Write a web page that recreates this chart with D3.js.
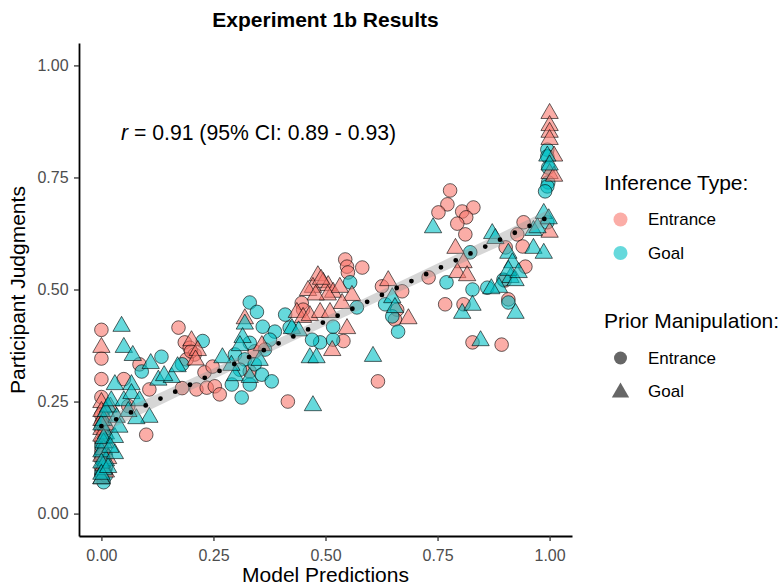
<!DOCTYPE html>
<html>
<head>
<meta charset="utf-8">
<script src="https://cdn.jsdelivr.net/npm/d3@7"></script>
<style>
  body { margin: 0; background: #fff; }
  text { font-family: "Liberation Sans", Arial, sans-serif; }
</style>
</head>
<body>
<div id="vis"></div>
<script>
const FRAME_WIDTH = 780;
const FRAME_HEIGHT = 585;
const PANEL = {left: 79, right: 572, top: 43, bottom: 536};

// [model prediction, participant judgment] per inference type x prior manipulation
const entranceCircle = [
  [0.0,0.41],[0.0,0.346],[0.0,0.30],[0.0,0.26],[0.005,0.23],[0.0,0.20],[0.01,0.17],[0.0,0.14],[0.005,0.12],[0.0,0.10],
  [0.0,0.22],[0.005,0.18],[0.0,0.16],[0.01,0.13],[0.0,0.085],[0.01,0.105],[0.0,0.19],
  [0.06,0.24],[0.05,0.30],[0.085,0.333],[0.107,0.277],[0.10,0.176],[0.172,0.415],
  [0.186,0.382],[0.197,0.37],[0.208,0.355],[0.19,0.344],[0.2,0.362],[0.18,0.28],[0.212,0.277],[0.23,0.315],
  [0.248,0.328],[0.235,0.281],[0.253,0.284],[0.264,0.266],
  [0.342,0.362],[0.331,0.317],[0.416,0.25],[0.544,0.567],[0.548,0.551],[0.55,0.538],[0.582,0.549],
  [0.447,0.47],[0.45,0.455],[0.617,0.295],[0.626,0.507],[0.671,0.496],[0.66,0.455],[0.655,0.433],
  [0.73,0.527],[0.767,0.467],[0.808,0.467],[0.828,0.382],[0.893,0.377],[0.778,0.721],[0.772,0.69],
  [0.752,0.672],[0.805,0.674],[0.83,0.683],[0.814,0.661],[0.794,0.647],[0.812,0.623],[0.902,0.594],
  [0.908,0.478],[0.946,0.551],[0.942,0.65],[0.928,0.623],[0.94,0.596],[0.54,0.385],[0.9,0.52]
];
const entranceTriangle = [
  [0.0,0.373],[0.0,0.25],[0.005,0.22],[0.0,0.19],[0.01,0.16],[0.0,0.13],[0.005,0.11],[0.0,0.08],[0.02,0.24],
  [0.01,0.2],[0.0,0.175],[0.005,0.145],[0.01,0.095],[0.0,0.23],[0.015,0.125],[0.0,0.21],
  [0.201,0.388],[0.215,0.366],[0.21,0.345],[0.32,0.437],[0.358,0.377],
  [0.483,0.533],[0.495,0.518],[0.506,0.511],[0.472,0.507],[0.517,0.496],[0.505,0.49],[0.461,0.50],
  [0.532,0.507],[0.559,0.489],[0.537,0.471],[0.436,0.451],[0.45,0.44],[0.465,0.444],[0.488,0.451],
  [0.51,0.451],[0.548,0.415],[0.515,0.366],[0.49,0.525],[0.478,0.49],
  [0.64,0.522],[0.685,0.437],[0.79,0.594],[0.808,0.562],[0.794,0.54],[0.816,0.533],
  [1.0,0.895],[1.0,0.868],[1.0,0.853],[1.0,0.837],[1.01,0.80],[1.0,0.761],[1.01,0.755],[1.0,0.63]
];
const goalCircle = [
  [0.0,0.09],[0.005,0.07],[0.0,0.15],[0.0,0.12],[0.005,0.11],[0.0,0.13],[0.01,0.085],
  [0.09,0.317],[0.134,0.35],[0.226,0.385],[0.18,0.333],
  [0.331,0.471],[0.347,0.45],[0.36,0.417],[0.387,0.406],[0.376,0.388],[0.331,0.381],[0.298,0.355],
  [0.32,0.344],[0.309,0.321],[0.342,0.333],[0.365,0.366],[0.358,0.31],[0.291,0.288],[0.331,0.288],
  [0.38,0.295],[0.313,0.259],[0.42,0.415],[0.41,0.444],[0.488,0.382],[0.47,0.388],[0.517,0.388],
  [0.517,0.417],[0.555,0.516],[0.57,0.46],[0.633,0.467],[0.649,0.44],[0.662,0.406],[0.77,0.516],
  [0.828,0.50],[0.861,0.504],[0.897,0.522],[0.823,0.583],[0.908,0.471],[0.995,0.65],
  [0.995,0.812],[0.995,0.797],[0.997,0.772],[0.997,0.739],[0.995,0.73],[0.99,0.719]
];
const goalTriangle = [
  [0.0,0.08],[0.005,0.1],[0.01,0.12],[0.0,0.14],[0.01,0.18],[0.005,0.21],[0.015,0.24],
  [0.0,0.115],[0.005,0.16],[0.0,0.2],[0.01,0.23],[0.0,0.09],[0.015,0.105],[0.005,0.17],
  [0.045,0.42],[0.05,0.373],[0.07,0.355],[0.11,0.337],[0.127,0.30],[0.157,0.306],[0.107,0.217],
  [0.078,0.214],[0.03,0.29],[0.022,0.254],[0.034,0.217],[0.03,0.172],[0.03,0.136],[0.05,0.254],
  [0.067,0.29],[0.067,0.27],[0.085,0.254],[0.04,0.195],[0.02,0.15],[0.06,0.23],[0.14,0.31],[0.17,0.33],
  [0.32,0.425],[0.315,0.395],[0.309,0.377],[0.298,0.31],[0.331,0.306],[0.29,0.333],[0.353,0.344],
  [0.27,0.35],[0.425,0.415],[0.465,0.35],[0.48,0.35],[0.472,0.243],[0.606,0.353],[0.44,0.41],
  [0.649,0.484],[0.655,0.462],[0.74,0.64],[0.805,0.449],[0.828,0.467],[0.846,0.388],[0.872,0.627],
  [0.879,0.616],[0.908,0.583],[0.917,0.562],[0.887,0.507],[0.87,0.504],[0.913,0.529],[0.924,0.522],
  [0.908,0.545],[0.931,0.54],[0.924,0.449],[0.964,0.634],[0.964,0.594],[0.987,0.583],[0.987,0.672],
  [0.973,0.64],[0.995,0.80],[1.0,0.78],[0.998,0.66]
];

// linear fit with its confidence band
const fitX = [0, 0.25, 0.5, 0.75, 1];
const fitY = [0.195, 0.312, 0.429, 0.546, 0.663];
const fitHalf = [0.016, 0.012, 0.01, 0.012, 0.016];

const ticks = [0, 0.25, 0.5, 0.75, 1];
const inferenceTypes = ["Entrance", "Goal"];
const priorTypes = ["Entrance", "Goal"];
const COLORS = {Entrance: "#F8766D", Goal: "#00BFC4"};

const svg = d3.select("#vis").append("svg")
  .attr("width", FRAME_WIDTH).attr("height", FRAME_HEIGHT);

const X_SCALE = d3.scaleLinear().domain([-0.05, 1.05]).range([PANEL.left, PANEL.right]);
const Y_SCALE = d3.scaleLinear().domain([-0.05, 1.05]).range([PANEL.bottom, PANEL.top]);

const triPath = d3.symbol().type(d3.symbolTriangle).size(130);

function drawGroup(data, type, shape) {
  const g = svg.append("g");
  if (shape === "circle") {
    g.selectAll("circle").data(data).enter().append("circle")
      .attr("cx", d => X_SCALE(d[0]))
      .attr("cy", d => Y_SCALE(d[1]))
      .attr("r", 6.8);
  } else {
    g.selectAll("path").data(data).enter().append("path")
      .attr("d", triPath)
      .attr("transform", d => "translate(" + X_SCALE(d[0]) + "," + (Y_SCALE(d[1]) + 1) + ")");
  }
  g.selectAll("*")
    .attr("fill", COLORS[type]).attr("fill-opacity", 0.6)
    .attr("stroke", "#000").attr("stroke-opacity", 0.6).attr("stroke-width", 1);
}

drawGroup(entranceCircle, "Entrance", "circle");
drawGroup(goalCircle, "Goal", "circle");
drawGroup(entranceTriangle, "Entrance", "triangle");
drawGroup(goalTriangle, "Goal", "triangle");

// fit ribbon and dotted line
const fitData = fitX.map((v, i) => ({x: v, y: fitY[i], lo: fitY[i] - fitHalf[i], hi: fitY[i] + fitHalf[i]}));
svg.append("path").datum(fitData)
  .attr("d", d3.area().curve(d3.curveMonotoneX).x(d => X_SCALE(d.x)).y0(d => Y_SCALE(d.lo)).y1(d => Y_SCALE(d.hi)))
  .attr("fill", "#999").attr("fill-opacity", 0.4);
svg.append("path").datum(fitData)
  .attr("d", d3.line().x(d => X_SCALE(d.x)).y(d => Y_SCALE(d.y)))
  .attr("fill", "none").attr("stroke", "#000").attr("stroke-width", 4.8)
  .attr("stroke-linecap", "round").attr("stroke-dasharray", "0 16.3");

// axes
const xAxis = svg.append("g")
  .attr("transform", "translate(0," + PANEL.bottom + ")")
  .call(d3.axisBottom(X_SCALE).tickValues(ticks).tickFormat(d3.format(".2f")).tickSize(5).tickSizeOuter(0));
const yAxis = svg.append("g")
  .attr("transform", "translate(" + PANEL.left + ",0)")
  .call(d3.axisLeft(Y_SCALE).tickValues(ticks).tickFormat(d3.format(".2f")).tickSize(5).tickSizeOuter(0));
[xAxis, yAxis].forEach(a => {
  a.select(".domain").attr("stroke", "#000").attr("stroke-width", 1.8);
  a.selectAll(".tick line").attr("stroke", "#333").attr("stroke-width", 1.3);
  a.selectAll(".tick text").attr("fill", "#4D4D4D").attr("font-size", "16px")
    .attr("font-family", "Liberation Sans, Arial, sans-serif");
});
xAxis.selectAll(".tick text").attr("dy", "1.05em");
yAxis.selectAll(".tick text").attr("dx", "-0.15em");

// titles
svg.append("text").attr("x", 325.5).attr("y", 27).attr("text-anchor", "middle")
  .attr("font-size", "21px").attr("font-weight", "bold").text("Experiment 1b Results");
svg.append("text").attr("x", 325.5).attr("y", 582).attr("text-anchor", "middle")
  .attr("font-size", "21px").text("Model Predictions");
svg.append("text").attr("transform", "translate(25,290) rotate(-90)").attr("text-anchor", "middle")
  .attr("font-size", "21px").text("Participant Judgments");

const rText = svg.append("text").attr("x", 121).attr("y", 140).attr("font-size", "21.2px");
rText.append("tspan").attr("font-style", "italic").text("r");
rText.append("tspan").text(" = 0.91 (95% CI: 0.89 - 0.93)");

// legends
const lg = svg.append("g");
lg.append("text").attr("x", 604).attr("y", 190).attr("font-size", "21px").text("Inference Type:");
inferenceTypes.forEach((t, i) => {
  const cy = 219.5 + i * 33.5;
  lg.append("circle").attr("cx", 620.5).attr("cy", cy).attr("r", 7)
    .attr("fill", COLORS[t]).attr("fill-opacity", 0.6);
  lg.append("text").attr("x", 648).attr("y", cy + 5.5).attr("font-size", "17px").text(t);
});
lg.append("text").attr("x", 604).attr("y", 328).attr("font-size", "21px").text("Prior Manipulation:");
priorTypes.forEach((t, i) => {
  const cy = 358 + i * 33.5;
  if (i === 0) {
    lg.append("circle").attr("cx", 620.5).attr("cy", cy).attr("r", 6.5)
      .attr("fill", "#000").attr("fill-opacity", 0.6);
  } else {
    lg.append("path").attr("d", triPath).attr("transform", "translate(620.5," + (cy + 1) + ")")
      .attr("fill", "#000").attr("fill-opacity", 0.6);
  }
  lg.append("text").attr("x", 648).attr("y", cy + 5.5).attr("font-size", "17px").text(t);
});
</script>
</body>
</html>
